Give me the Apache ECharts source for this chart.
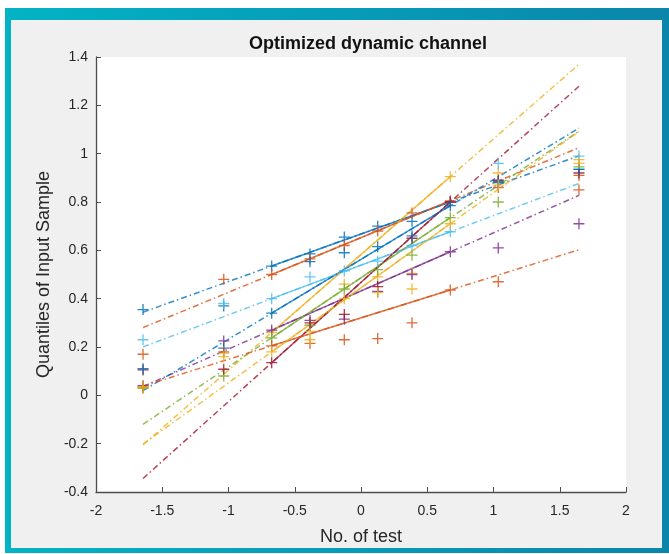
<!DOCTYPE html>
<html>
  <head>
    <meta charset="UTF-8">
    <script src="https://cdn.jsdelivr.net/npm/echarts@6/dist/echarts.min.js"></script>
    <title>Optimized dynamic channel</title>
    <style>
      body { margin: 0; background: #fff; }
    </style>
  </head>
  <body>
    <div id="main" style="width: 669px;height:554px;"></div>
  </body>

  <script>
// normal quantiles for 10 samples (x of every qq point)
var quantX = [-1.645, -1.036, -0.674, -0.385, -0.126, 0.126, 0.385, 0.674, 1.036, 1.645];

// sorted samples, one array per test
var s1  = [0.355, 0.37, 0.535, 0.585, 0.655, 0.70, 0.72, 0.80, 0.885, 0.935];
var s2  = [0.17, 0.48, 0.50, 0.565, 0.62, 0.68, 0.755, 0.805, 0.86, 0.91];
var s3  = [0.03, 0.175, 0.26, 0.265, 0.46, 0.49, 0.505, 0.905, 0.92, 0.975];
var s4  = [0.04, 0.225, 0.27, 0.31, 0.315, 0.43, 0.50, 0.594, 0.61, 0.71];
var s5  = [0.03, 0.08, 0.238, 0.29, 0.44, 0.52, 0.58, 0.735, 0.80, 0.945];
var s6  = [0.23, 0.38, 0.40, 0.49, 0.515, 0.555, 0.62, 0.677, 0.96, 0.99];
var s7  = [0.105, 0.108, 0.135, 0.30, 0.335, 0.45, 0.65, 0.80, 0.89, 0.92];
var s8  = [0.11, 0.195, 0.34, 0.553, 0.59, 0.615, 0.66, 0.785, 0.88, 0.935];
var s9  = [0.035, 0.18, 0.205, 0.215, 0.23, 0.235, 0.30, 0.436, 0.47, 0.85];
var s10 = [0.035, 0.16, 0.18, 0.23, 0.40, 0.425, 0.44, 0.71, 0.87, 0.96];

var samples = [s1, s2, s3, s4, s5, s6, s7, s8, s9, s10];
var colors = ['#0072BD','#D95319','#EDB120','#7E2F8E','#77AC30','#4DBEEE','#A2142F','#0072BD','#D95319','#EDB120'];

var plus = 'path://M0,4.4H4.4V0H5.6V4.4H10V5.6H5.6V10H4.4V5.6H0Z';
var txt = '#262626';
var font = 'Liberation Sans, Arial, Helvetica, sans-serif';

var markerSeries = [], solidSeries = [], dashSeries = [];
samples.forEach(function (vals, i) {
    markerSeries.push({
        type: 'scatter',
        symbol: plus,
        symbolSize: 11,
        itemStyle: { color: colors[i], opacity: 0.85 },
        data: quantX.map(function (x, k) { return [x, vals[k]]; }),
        z: 3
    });
    // qqplot reference line through 1st and 3rd quartile points
    var xa = quantX[2], xb = quantX[7], ya = vals[2], yb = vals[7];
    var k = (yb - ya) / (xb - xa);
    var at = function (x) { return ya + k * (x - xa); };
    solidSeries.push({
        type: 'line',
        symbol: 'none',
        lineStyle: { color: colors[i], width: 1.5, opacity: 0.8 },
        data: [[xa, ya], [xb, yb]],
        z: 2
    });
    var x0 = quantX[0], x9 = quantX[9];
    dashSeries.push({
        type: 'line',
        symbol: 'none',
        lineStyle: { color: colors[i], width: 1.5, opacity: 0.8, type: [6, 3, 1.5, 3] },
        data: [[x0, at(x0)], [x9, at(x9)]],
        z: 2
    });
});

var chart = echarts.init(document.getElementById('main'));
chart.setOption({
    animation: false,
    backgroundColor: '#fff',
    graphic: [
        { type: 'rect', z: -10, shape: { x: 5, y: 8, width: 664, height: 545 },
          style: { fill: new echarts.graphic.LinearGradient(0, 0, 1, 0, [
              { offset: 0, color: '#03b3c4' }, { offset: 1, color: '#0a86ab' }]) } },
        { type: 'rect', z: -9, shape: { x: 11, y: 20, width: 651, height: 528 },
          style: { fill: '#f0f0f0' } }
    ],
    title: {
        text: 'Optimized dynamic channel',
        left: 363,
        top: 30,
        textAlign: 'center',
        textStyle: { fontFamily: font, fontSize: 18, fontWeight: 'bold', color: '#111' }
    },
    grid: {
        left: 96, top: 57, width: 530, height: 435,
        show: true, backgroundColor: '#fff', borderWidth: 0
    },
    xAxis: {
        type: 'value',
        min: -2, max: 2, interval: 0.5,
        name: 'No. of test',
        nameLocation: 'middle',
        nameGap: 36,
        nameTextStyle: { fontFamily: font, fontSize: 18, color: txt },
        axisLine: { show: true, onZero: false, lineStyle: { color: '#4d4d4d', width: 1.3 } },
        axisTick: { show: true, inside: true, length: 5, lineStyle: { color: '#4d4d4d' } },
        axisLabel: { fontFamily: font, fontSize: 14, color: txt, margin: 12 },
        splitLine: { show: false }
    },
    yAxis: {
        type: 'value',
        min: -0.4, max: 1.4, interval: 0.2,
        name: 'Quantiles of Input Sample',
        nameLocation: 'middle',
        nameGap: 37,
        nameTextStyle: { fontFamily: font, fontSize: 18, color: txt },
        axisLine: { show: true, onZero: false, lineStyle: { color: '#4d4d4d', width: 1.3 } },
        axisTick: { show: true, inside: true, length: 5, lineStyle: { color: '#4d4d4d' } },
        axisLabel: { fontFamily: font, fontSize: 14, color: txt, margin: 8 },
        splitLine: { show: false }
    },
    series: markerSeries.concat(solidSeries, dashSeries)
});
  </script>
</html>
